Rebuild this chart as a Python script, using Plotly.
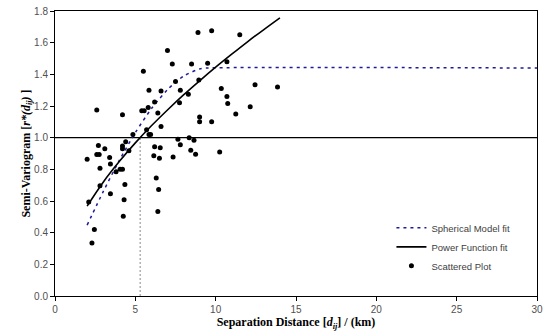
import plotly.graph_objects as go

# Scattered semi-variogram values (distance km, semi-variogram)
scatter_x = [8.9, 9.75, 11.5, 7.0, 5.5, 7.3, 8.5, 9.5, 10.7, 7.5, 8.95, 5.85, 6.6, 7.8, 8.3,
             10.35, 10.7, 10.75, 12.45, 13.85, 12.15, 11.25, 6.2, 7.75, 5.8, 5.4, 5.55, 6.4,
             2.6, 4.2, 6.6, 9.0, 9.0, 9.75, 5.7, 4.85, 5.85, 5.95,
             7.65, 8.35, 8.65, 7.8, 6.2, 6.55, 6.15, 6.5, 7.35, 8.45, 8.75, 10.25, 4.4, 4.2,
             4.2, 4.6, 2.7, 3.1, 2.6, 2.75, 3.4, 2.0, 2.8, 3.45, 3.8, 4.05, 4.2, 2.8, 4.35,
             3.45, 2.1, 4.3, 4.25, 2.45, 2.3, 6.3, 6.45, 6.4]
scatter_y = [1.665, 1.675, 1.65, 1.55, 1.42, 1.465, 1.465, 1.47, 1.48, 1.355, 1.365, 1.30, 1.295,
             1.30, 1.275, 1.31, 1.26, 1.215, 1.335, 1.32, 1.195, 1.15, 1.225, 1.22, 1.19, 1.17,
             1.17, 1.155, 1.175, 1.145, 1.07, 1.13, 1.10, 1.10, 1.05, 1.02, 1.02, 1.02,
             0.99, 1.0, 0.983, 0.956, 0.943, 0.937, 0.886, 0.87, 0.878, 0.92, 0.895, 0.91,
             0.975, 0.948, 0.93, 0.918, 0.95, 0.93, 0.893, 0.893, 0.874, 0.863, 0.807, 0.834,
             0.785, 0.80, 0.80, 0.697, 0.705, 0.646, 0.594, 0.608, 0.503, 0.42, 0.335, 0.745,
             0.672, 0.533]

# Spherical model fit
sph_x = [2, 3, 4, 5, 6, 7, 8, 9, 9.5, 30]
sph_y = [0.448, 0.659, 0.856, 1.032, 1.183, 1.303, 1.389, 1.434, 1.44, 1.44]

# Power function fit
pow_x = [2, 3, 4, 5, 6, 7, 8, 9, 10, 11, 12, 13, 14]
pow_y = [0.568, 0.719, 0.849, 0.967, 1.075, 1.175, 1.270, 1.359, 1.445, 1.527, 1.607, 1.683, 1.757]

# Reference lines
ref_y = 1.0
ref_x = 5.3

x_ticks = [0, 5, 10, 15, 20, 25, 30]
y_ticks = [0.0, 0.2, 0.4, 0.6, 0.8, 1.0, 1.2, 1.4, 1.6, 1.8]

fig = go.Figure()

fig.add_trace(go.Scatter(x=[0, 30], y=[ref_y, ref_y], mode="lines",
                         line=dict(color="black", width=1.2), showlegend=False, hoverinfo="skip"))
fig.add_trace(go.Scatter(x=[ref_x, ref_x], y=[0, ref_y], mode="lines",
                         line=dict(color="#8a8a8a", width=1, dash="2px,2px"), showlegend=False,
                         hoverinfo="skip"))

fig.add_trace(go.Scatter(x=sph_x, y=sph_y, mode="lines", name="Spherical Model fit",
                         line=dict(color="#1c1c96", width=1.5, dash="3px,4px", shape="spline",
                                   smoothing=0.6)))
fig.add_trace(go.Scatter(x=pow_x, y=pow_y, mode="lines", name="Power Function fit",
                         line=dict(color="black", width=1.6, shape="spline")))
fig.add_trace(go.Scatter(x=scatter_x, y=scatter_y, mode="markers", name="Scattered Plot",
                         marker=dict(color="black", size=5)))

fig.update_layout(
    width=544, height=331,
    margin=dict(l=55, r=7, t=11, b=35),
    plot_bgcolor="white", paper_bgcolor="white",
    font=dict(family="Liberation Sans, Arial", size=10, color="#505050"),
    legend=dict(x=0.698, y=0.29, xanchor="left", yanchor="top", bgcolor="rgba(0,0,0,0)",
                font=dict(size=9.5, color="#404040"), itemwidth=30, tracegroupgap=0),
    xaxis=dict(range=[0, 30], tickvals=x_ticks, ticks="outside", ticklen=4, tickcolor="black",
               showgrid=False, zeroline=False, showline=True, linecolor="black", linewidth=1,
               mirror=True, automargin=False,
               title=dict(text="<b>Separation Distance [<i>d<sub>ij</sub></i>] / (km)</b>",
                          font=dict(family="Liberation Serif, Times New Roman", size=12,
                                    color="black"), standoff=12)),
    yaxis=dict(range=[0, 1.8], tickvals=y_ticks, tickformat=".1f", ticks="outside", ticklen=4,
               tickcolor="black", showgrid=False, zeroline=False, showline=True,
               linecolor="black", linewidth=1, mirror=True, automargin=False,
               title=dict(text="<b>Semi-Variogram [<i>r*(d<sub>ij</sub>)</i> ]</b>",
                          font=dict(family="Liberation Serif, Times New Roman", size=12,
                                    color="black"), standoff=0)),
)

# Remove the page's default 8px body margin so the figure fills the window exactly.
fig.write_html("out.html", config={"displayModeBar": False},
               post_script="document.body.style.margin='0px';")
